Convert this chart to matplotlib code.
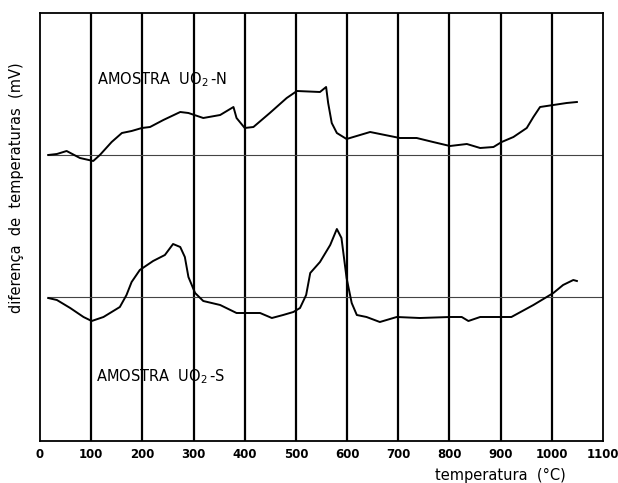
import matplotlib
matplotlib.use("Agg")
import matplotlib.pyplot as plt

# Temperature (°C) and signal (arbitrary vertical units, 0 = bottom of frame)
t_n = [16, 33, 52, 78, 104, 117, 140, 160, 179, 199, 215, 241, 274, 290, 319, 352,
       378, 384, 400, 417, 449, 482, 502, 547, 559, 563, 570, 580, 599, 645, 703,
       736, 768, 801, 834, 860, 886, 902, 925, 951, 964, 977, 1003, 1029, 1049]
y_n = [286, 287, 290, 283, 280, 286, 299, 308, 310, 313, 314, 321, 329, 328, 323, 326,
       334, 323, 313, 314, 328, 343, 350, 349, 354, 338, 318, 308, 302, 309, 303,
       303, 299, 295, 297, 293, 294, 299, 304, 313, 324, 334, 336, 338, 339]

t_s = [16, 33, 59, 85, 101, 124, 156, 169, 179, 195, 221, 244, 260, 274, 283, 290,
       303, 319, 352, 384, 430, 453, 475, 495, 508, 520, 528, 547, 567, 580, 589,
       599, 609, 619, 638, 664, 697, 742, 801, 824, 837, 860, 921, 964, 1003, 1022,
       1042, 1049]
y_s = [143, 141, 133, 124, 120, 124, 134, 146, 159, 171, 180, 186, 197, 194, 184, 164,
       148, 140, 136, 128, 128, 123, 126, 129, 133, 146, 168, 179, 196, 212, 203,
       163, 138, 126, 124, 119, 124, 123, 124, 124, 120, 124, 124, 136, 148, 156,
       161, 160]

baseline_n = 286
baseline_s = 144
xticks = list(range(0, 1101, 100))
label_n = "AMOSTRA  UO$_2\\,$-N"
label_s = "AMOSTRA  UO$_2\\,$-S"

fig = plt.figure(figsize=(6.18, 4.83), dpi=100)
ax = fig.add_axes([40/618, 1-441/483, (603-40)/618, (441-13)/483])
ax.set_xlim(0, 1100)
ax.set_ylim(0, 428)

for x in xticks[1:-1]:
    ax.axvline(x, color="black", lw=1.6, zorder=1)

ax.plot([15, 1100], [baseline_n, baseline_n], color="#444444", lw=0.8, zorder=1)
ax.plot([16, 1100], [baseline_s, baseline_s], color="#444444", lw=0.8, zorder=1)

ax.plot(t_n, y_n, color="black", lw=1.4, zorder=2)
ax.plot(t_s, y_s, color="black", lw=1.4, zorder=2)

for s in ax.spines.values():
    s.set_linewidth(1.3)

ax.set_xticks(xticks)
ax.set_xticklabels([str(v) for v in xticks], fontsize=8.5, fontweight="bold")
ax.tick_params(axis="x", length=0, pad=5)
ax.set_yticks([])

ax.text(111, 361, label_n, fontsize=10.5, va="center", ha="left")
ax.text(109, 64, label_s, fontsize=10.5, va="center", ha="left")

fig.text(17/618, 1-188/483, "diferença  de  temperaturas  (mV)", rotation=90,
         fontsize=10.5, ha="center", va="center")
fig.text(500/618, 1-475/483, "temperatura  (°C)", fontsize=10.5, ha="center", va="center")

fig.savefig("out.png", dpi=100)
